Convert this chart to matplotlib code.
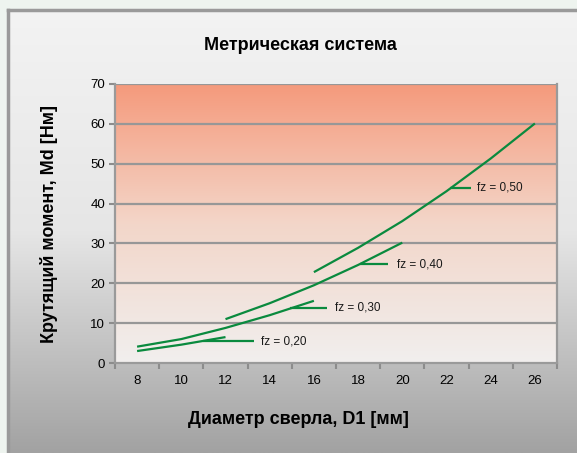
import numpy as np
import matplotlib
matplotlib.use("Agg")
import matplotlib.pyplot as plt
from matplotlib.colors import LinearSegmentedColormap

plt.rcParams['font.family'] = ['Liberation Sans Narrow', 'Liberation Sans', 'DejaVu Sans']

# diameters (mm) per feed series
d_020 = [8, 10, 12]
md_020 = [3.0, 4.6, 6.5]
d_030 = [8, 10, 12, 14, 16]
md_030 = [4.1, 6.0, 8.8, 12.0, 15.6]
d_040 = [12, 14, 16, 18, 20]
md_040 = [11.0, 15.0, 19.5, 24.6, 30.2]
d_050 = [16, 18, 20, 22, 24, 26]
md_050 = [22.8, 28.9, 35.6, 43.1, 51.3, 60.1]

categories = [8, 10, 12, 14, 16, 18, 20, 22, 24, 26]
series_labels = ['fz = 0,20', 'fz = 0,30', 'fz = 0,40', 'fz = 0,50']
# leader lines: start x, end x, y, label x
leader_x0 = [11.0, 14.9, 18.1, 22.15]
leader_x1 = [13.3, 16.6, 19.35, 23.1]
leader_y = [5.4, 13.8, 24.8, 44.0]
label_x = [13.6, 16.95, 19.75, 23.4]

green = '#0a8a3e'

fig = plt.figure(figsize=(5.77, 4.53), dpi=100)
fig.patch.set_facecolor('#eef4ef')

# outer panel with vertical gray gradient
bg = fig.add_axes([8 / 577, 0, 1 - 8 / 577, 1 - 10 / 453], zorder=0)
grad = np.linspace(0, 1, 256).reshape(-1, 1)
panel_cmap = LinearSegmentedColormap.from_list('panel', ['#f3f3f3', '#e6e6e6', '#a2a2a2'])
bg.imshow(grad, aspect='auto', cmap=panel_cmap, extent=[0, 1, 0, 1], origin='upper')
bg.set_xlim(0, 1)
bg.set_ylim(0, 1)
bg.set_xticks([])
bg.set_yticks([])
for s in ['right', 'bottom']:
    bg.spines[s].set_visible(False)
for s in ['top', 'left']:
    bg.spines[s].set_color('#9a9a9a')
    bg.spines[s].set_linewidth(2.5)

ax = fig.add_axes([115 / 577, 1 - 363 / 453, 442 / 577, 279 / 453], zorder=1)
plot_cmap = LinearSegmentedColormap.from_list('plot', ['#f1efee', '#f3d6c9', '#f59a7c'])
ax.imshow(np.linspace(0, 1, 256).reshape(-1, 1), aspect='auto', cmap=plot_cmap,
          extent=[7, 27, 0, 70], origin='lower', zorder=0)
ax.set_xlim(7, 27)
ax.set_ylim(0, 70)

for y in range(10, 71, 10):
    ax.axhline(y, color='#979797', lw=1.6, zorder=1)

for d, md in [(d_020, md_020), (d_030, md_030), (d_040, md_040), (d_050, md_050)]:
    ax.plot(d, md, color=green, lw=1.6, zorder=3, solid_capstyle='butt')

for x0, x1, y, lx, lab in zip(leader_x0, leader_x1, leader_y, label_x, series_labels):
    ax.plot([x0, x1], [y, y], color=green, lw=1.6, zorder=3, solid_capstyle='butt')
    ax.text(lx, y, lab, fontsize=8.5, va='center', ha='left', color='#1a1a1a', zorder=4)

edges = np.arange(7, 28, 2)
ax.set_xticks(edges)
ax.set_xticklabels([])
ax.set_xticks(categories, minor=True)
ax.set_xticklabels([str(c) for c in categories], minor=True, fontsize=9.5)
ax.tick_params(axis='x', which='major', length=4, width=1.5, color='#8c8c8c', direction='out')
ax.tick_params(axis='x', which='minor', length=0, pad=9)
ax.set_yticks(range(0, 71, 10))
ax.tick_params(axis='y', length=4, width=1.5, color='#8c8c8c', labelsize=9.5, pad=3)

for s in ['left', 'bottom', 'right']:
    ax.spines[s].set_color('#9a9a9a')
    ax.spines[s].set_linewidth(1.6)
ax.spines['top'].set_visible(False)

fig.text(300 / 577, 1 - 45 / 453, 'Метрическая система', ha='center', va='center',
         fontsize=13, fontweight='bold')
fig.text(298 / 577, 1 - 420 / 453, 'Диаметр сверла, D1 [мм]', ha='center', va='center',
         fontsize=13, fontweight='bold')
fig.text(49 / 577, 1 - 224 / 453, 'Крутящий момент, Md [Нм]', ha='center', va='center',
         fontsize=13, fontweight='bold', rotation=90)

fig.savefig('out.png', dpi=100)
